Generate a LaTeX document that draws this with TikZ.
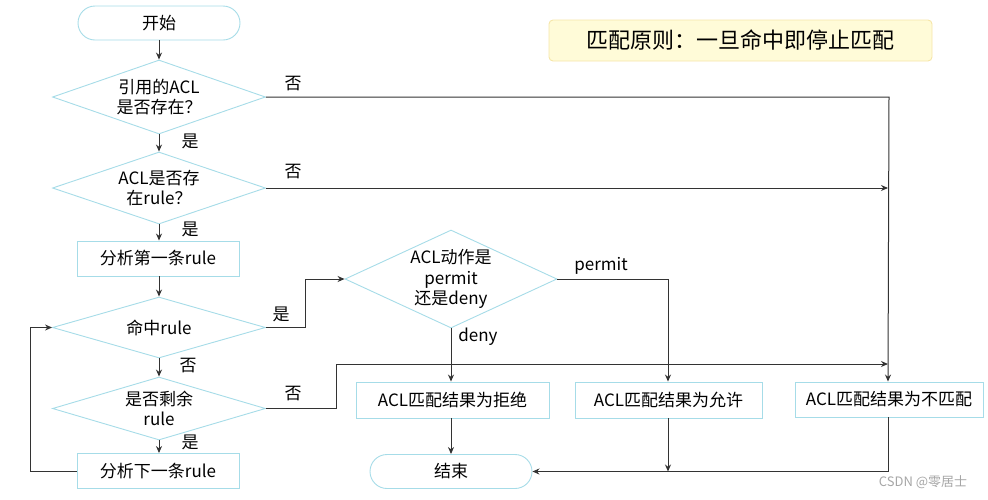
\documentclass[tikz,border=0pt]{standalone}
\usepackage{fontspec}
\setmainfont{Noto Sans CJK SC}
\usetikzlibrary{shapes.geometric,arrows.meta}
\definecolor{nodeline}{HTML}{A6DCE8}
\definecolor{conn}{HTML}{333333}
\definecolor{legfill}{HTML}{FFFBD8}
\definecolor{legline}{HTML}{F6E6A8}
\tikzset{
  base/.style={draw=nodeline, line width=0.9pt, inner sep=0pt, fill=white},
  term/.style={base, rectangle, rounded corners=17pt, minimum width=162pt, minimum height=34pt, font=\fontsize{17}{20}\selectfont},
  proc/.style={base, rectangle, minimum width=162pt, minimum height=35pt, font=\fontsize{17}{20}\selectfont},
  dia/.style={base, diamond, aspect=2},
  txt/.style={align=center, inner sep=0pt, font=\fontsize{17}{20.5}\selectfont},
  lbl/.style={inner sep=0pt, font=\fontsize{17}{18}\selectfont},
  conn/.style={draw=conn, line width=1pt, -{Stealth[length=7pt,width=6pt]}},
  plain/.style={draw=conn, line width=1pt}
}
\begin{document}
\begin{tikzpicture}[x=1pt,y=-1pt]
\useasboundingbox (0,0) rectangle (988,499);
% legend
\node[draw=legline, fill=legfill, line width=0.9pt, rounded corners=4pt, minimum width=383pt, minimum height=41pt, inner sep=0pt, font=\fontsize{22}{24}\selectfont] (leg) at (740.5,40.5) {匹配原则：一旦命中即停止匹配};
% nodes
\node[term] (start) at (159,23) {开始};
\node[dia, minimum width=213pt, minimum height=74pt] (d1) at (159,97) {};
\node[txt] (d1t) at (d1) {引用的ACL\\是否存在？};
\node[dia, minimum width=213pt, minimum height=72pt] (d2) at (159,188) {};
\node[txt] (d2t) at (d2) {ACL是否存\\在rule？};
\node[proc] (p1) at (158,258.5) {分析第一条rule};
\node[dia, minimum width=213pt, minimum height=61pt] (d3) at (159,327.5) {};
\node[txt] (d3t) at (d3) {命中rule};
\node[dia, minimum width=213pt, minimum height=63pt] (d4) at (159,408.5) {};
\node[txt] (d4t) at (d4) {是否剩余\\rule};
\node[proc] (p2) at (158,471) {分析下一条rule};
\node[dia, minimum width=212pt, minimum height=98pt] (d5) at (451,279) {};
\node[txt] (d5t) at (d5) {ACL动作是\\permit\\还是deny};
\node[proc, minimum width=193pt, minimum height=36pt] (deny) at (452.5,400) {ACL匹配结果为拒绝};
\node[proc, minimum width=187pt, minimum height=36pt] (perm) at (668.5,400) {ACL匹配结果为允许};
\node[proc, minimum width=188pt, minimum height=35pt] (nom) at (889,399.5) {ACL匹配结果为不匹配};
\node[term] (end) at (451,471.5) {结束};
% coordinates
\coordinate (j1) at (888,188);
\coordinate (j2) at (888,364);
\coordinate (j3) at (668,471.5);
\coordinate (loop) at (30,327.5);
% connectors
\draw[conn] (start.south) -- (d1.north);
\draw[conn] (d1.south) -- (d2.north);
\draw[conn] (d2.south) -- (p1.north -| d2.south);
\draw[conn] (p1.south -| d3.north) -- (d3.north);
\draw[conn] (d3.south) -- (d4.north);
\draw[conn] (d4.south) -- (p2.north -| d4.south);
\draw[conn] (d1.east) -- (d1.east -| nom.north) -- (nom.north -| j1);
\draw[conn] (d2.east) -- (j1);
\draw[conn] (d3.east) -- (305,327.5) -- (305,279) -- (d5.west);
\draw[conn] (d5.east) -- (668,279) -- (perm.north -| 668,0);
\draw[conn] (d5.south) -- (deny.north -| d5.south);
\draw[conn] (d4.east) -- (336,408.5) -- (336,364) -- (j2);
\draw[conn] (p2.west) -- (p2.west -| loop) -- (loop) -- (d3.west);
\draw[conn] (deny.south -| end.north) -- (end.north);
\draw[conn] (perm.south -| j3) -- (j3);
\draw[conn] (nom.south -| j1) -- (888,471.5) -- (end.east);
% labels
\node[lbl] (l1) at (293,84) {否};
\node[lbl] (l2) at (190,141) {是};
\node[lbl] (l3) at (293,172) {否};
\node[lbl] (l4) at (190,229) {是};
\node[lbl] (l5) at (281,314) {是};
\node[lbl] (l6) at (188,366) {否};
\node[lbl] (l7) at (293,394) {否};
\node[lbl] (l8) at (190,442) {是};
\node[lbl] (l9) at (601,266) {permit};
\node[lbl] (l10) at (478,337) {deny};
\node[inner sep=0pt, text=gray!70, font=\fontsize{13}{14}\selectfont] (wm) at (923,482) {CSDN @零居士};
\end{tikzpicture}
\end{document}
